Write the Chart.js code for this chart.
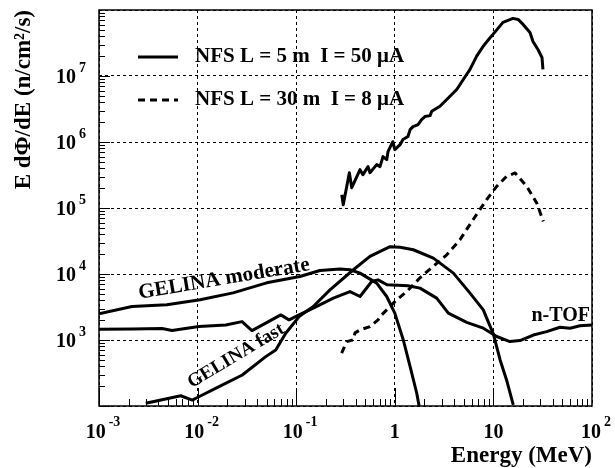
<!DOCTYPE html>
<html>
<head>
<meta charset="utf-8">
<script src="https://cdn.jsdelivr.net/npm/chart.js@4.4.0/dist/chart.umd.min.js"></script>
<style>
  body { margin: 0; background: #fff; }
  #wrap { width: 615px; height: 468px; }
</style>
</head>
<body>
<div id="wrap"><canvas id="fluxChart"></canvas></div>
<script>
// energies in MeV, E dPhi/dE in n/cm2/s
const nfs5Energy = [0.29, 0.30, 0.346, 0.366, 0.444, 0.475, 0.535, 0.56, 0.655, 0.708, 0.759, 0.828, 0.853, 0.955, 1.0,
  1.13, 1.21, 1.36, 1.43, 1.53, 1.72, 1.87, 2.02, 2.28, 2.37, 2.87, 3.23, 3.63, 4.25, 4.95, 5.79, 6.77, 7.9, 9.25,
  9.9, 12.5, 15.8, 17.8, 20, 23.5, 25.2, 28.3, 31.1, 31.8];
const nfs5Flux = [1.59e5, 1.12e5, 3.43e5, 2.03e5, 3.81e5, 3.2e5, 4.24e5, 3.43e5, 4.54e5, 4.24e5, 6.0e5, 5.4e5, 7.14e5,
  1.01e6, 7.67e5, 9.1e5, 1.09e6, 1.21e6, 1.54e6, 1.71e6, 1.84e6, 2.19e6, 2.43e6, 2.51e6, 2.92e6, 3.48e6, 4.15e6,
  4.94e6, 6.24e6, 8.85e6, 1.26e7, 2.0e7, 2.83e7, 3.8e7, 4.27e7, 6.5e7, 7.46e7, 7.2e7, 6.05e7, 4.57e7, 3.34e7,
  2.52e7, 1.91e7, 1.26e7];

const nfs30Energy = [0.289, 0.325, 0.377, 0.395, 0.444, 0.56, 0.676, 0.736, 0.828, 1.045, 1.32, 1.8, 2.44, 3.36,
  4.58, 6.21, 8.55, 10.8, 13.6, 16.6, 21.8, 27.5, 32.1];
const nfs30Flux = [631, 946, 1000, 1282, 1423, 1596, 2018, 2404, 2864, 4063, 5420, 8750, 1.3e4, 1.95e4, 3.3e4,
  6.64e4, 1.34e5, 2.13e5, 3.02e5, 3.4e5, 2.13e5, 1.19e5, 6.27e4];

const gelModEnergy = [0.001, 0.00216, 0.00487, 0.0106, 0.0229, 0.0502, 0.109, 0.174, 0.278, 0.351, 0.444, 0.655,
  0.828, 1.0, 1.22, 1.43, 1.67, 1.77];
const gelModFlux = [2490, 3210, 3410, 4060, 5180, 7350, 9170, 1.13e4, 1.19e4, 1.16e4, 1.03e4, 7280, 4560, 2550,
  1000, 394, 156, 97];

const gelFastEnergy = [0.00298, 0.00675, 0.00883, 0.0103, 0.0165, 0.0284, 0.0491, 0.062, 0.0783, 0.107, 0.149,
  0.22, 0.38, 0.56, 0.894, 1.13, 1.54, 2.46, 3.93, 5.79, 7.9, 8.55, 9.98, 11.7, 13.6, 15.9];
const gelFastFlux = [110, 143, 123, 138, 196, 295, 560, 708, 1268, 2265, 3214, 5750, 1.16e4, 1.85e4, 2.59e4,
  2.54e4, 2.33e4, 1.74e4, 1.03e4, 5130, 2864, 2143, 1239, 499, 248, 104];

const ntofEnergy = [0.001, 0.00216, 0.00436, 0.0055, 0.00695, 0.0103, 0.0193, 0.0282, 0.0356, 0.0491, 0.0697,
  0.0846, 0.107, 0.149, 0.238, 0.351, 0.444, 0.583, 0.676, 0.834, 1.36, 1.8, 2.66, 3.49, 5.36, 7.9, 10.8, 14.7,
  18.6, 25.4, 34.7, 47.3, 59.8, 75.5, 100];
const ntofFlux = [1460, 1470, 1490, 1390, 1470, 1600, 1690, 1900, 1390, 1800, 2400, 2020, 2400, 3040, 4310, 5420,
  4560, 7690, 8160, 6860, 6620, 6110, 4310, 2550, 1850, 1510, 1130, 946, 980, 1190, 1340, 1560, 1510, 1640, 1690];

const xDecades = [1e-3, 1e-2, 1e-1, 1, 10, 100];
const xTickLabels = [['10', '-3'], ['10', '-2'], ['10', '-1'], ['1', ''], ['10', ''], ['10', '2']];
const yDecades = [1e2, 1e3, 1e4, 1e5, 1e6, 1e7, 1e8];
const yTickLabels = [null, ['10', '3'], ['10', '4'], ['10', '5'], ['10', '6'], ['10', '7'], null];

const serif = '"Liberation Serif", "Times New Roman", serif';

function points(xs, ys) {
  return xs.map((x, i) => ({ x: x, y: ys[i] }));
}

function line(data, dashed) {
  return {
    data: data,
    borderColor: '#000',
    borderWidth: 3,
    borderDash: dashed ? [7, 5] : [],
    borderJoinStyle: 'round',
    pointRadius: 0,
    tension: 0,
    fill: false
  };
}

// ROOT look: frame, inward ticks, 10^n labels, titles, legend, curve names
const rootStyle = {
  id: 'rootStyle',
  afterDraw(chart) {
    const ctx = chart.ctx;
    const a = chart.chartArea;
    const sx = chart.scales.x;
    const sy = chart.scales.y;
    ctx.save();

    ctx.strokeStyle = '#000';
    ctx.lineWidth = 1.5;
    ctx.strokeRect(a.left, a.top, a.right - a.left, a.bottom - a.top);

    ctx.lineWidth = 1;
    ctx.beginPath();
    for (let d = -3; d < 2; d++) {
      for (let k = 1; k < 10; k++) {
        const px = Math.round(sx.getPixelForValue(k * Math.pow(10, d))) + 0.5;
        ctx.moveTo(px, a.bottom);
        ctx.lineTo(px, a.bottom - (k === 1 ? 18 : 7));
      }
    }
    for (let d = 2; d < 8; d++) {
      for (let k = 1; k < 10; k++) {
        const py = Math.round(sy.getPixelForValue(k * Math.pow(10, d))) + 0.5;
        ctx.moveTo(a.left, py);
        ctx.lineTo(a.left + (k === 1 ? 11 : 6), py);
      }
    }
    ctx.stroke();

    ctx.fillStyle = '#000';
    const baseFont = 'bold 20px ' + serif;
    const supFont = 'bold 14px ' + serif;

    // x tick labels
    ctx.textBaseline = 'alphabetic';
    ctx.textAlign = 'left';
    xDecades.forEach((v, i) => {
      const px = sx.getPixelForValue(v);
      const [b, e] = xTickLabels[i];
      ctx.font = baseFont;
      const wb = ctx.measureText(b).width;
      ctx.font = supFont;
      const we = e ? ctx.measureText(e).width + 3 : 0;
      const left = px + (e ? 4 : 0) - (wb + we) / 2;
      ctx.font = baseFont;
      ctx.fillText(b, left, 438);
      if (e) {
        ctx.font = supFont;
        ctx.fillText(e, left + wb + 3, 426);
      }
    });

    // y tick labels
    yDecades.forEach((v, i) => {
      const lab = yTickLabels[i];
      if (!lab) return;
      const py = sy.getPixelForValue(v);
      ctx.textAlign = 'right';
      ctx.font = supFont;
      const we = ctx.measureText(lab[1]).width;
      ctx.fillText(lab[1], 86, py - 4);
      ctx.font = baseFont;
      ctx.fillText(lab[0], 86 - we - 3, py + 7);
    });

    // axis titles
    ctx.font = 'bold 23px ' + serif;
    ctx.textAlign = 'right';
    ctx.fillText('Energy (MeV)', a.right, 462);
    ctx.save();
    ctx.translate(30, a.top);
    ctx.rotate(-Math.PI / 2);
    ctx.textAlign = 'right';
    ctx.fillText('E d\u03A6/dE (n/cm\u00B2/s)', 0, 0);
    ctx.restore();

    // legend
    ctx.lineWidth = 3;
    ctx.beginPath();
    ctx.moveTo(138, 57);
    ctx.lineTo(178, 57);
    ctx.stroke();
    ctx.setLineDash([7, 5]);
    ctx.beginPath();
    ctx.moveTo(138, 100);
    ctx.lineTo(178, 100);
    ctx.stroke();
    ctx.setLineDash([]);
    ctx.font = 'bold 21px ' + serif;
    ctx.textAlign = 'left';
    ctx.textBaseline = 'middle';
    ctx.fillText('NFS L = 5 m  I = 50 \u03BCA', 195, 57);
    ctx.fillText('NFS L = 30 m  I = 8 \u03BCA', 195, 100);

    // curve names
    ctx.textAlign = 'center';
    ctx.save();
    ctx.translate(224, 279);
    ctx.rotate(-9.5 * Math.PI / 180);
    ctx.fillText('GELINA moderate', 0, 0);
    ctx.restore();
    ctx.font = 'bold 19px ' + serif;
    ctx.save();
    ctx.translate(236, 356);
    ctx.rotate(-31 * Math.PI / 180);
    ctx.fillText('GELINA fast', 0, 0);
    ctx.restore();
    ctx.font = 'bold 20px ' + serif;
    ctx.textAlign = 'right';
    ctx.fillText('n-TOF', 590, 316);

    ctx.restore();
  }
};

const ctx = document.getElementById('fluxChart').getContext('2d');
const fluxChart = new Chart(ctx, {
  type: 'line',
  data: {
    datasets: [
      line(points(nfs5Energy, nfs5Flux), false),
      line(points(nfs30Energy, nfs30Flux), true),
      line(points(gelModEnergy, gelModFlux), false),
      line(points(gelFastEnergy, gelFastFlux), false),
      line(points(ntofEnergy, ntofFlux), false)
    ]
  },
  options: {
    responsive: true,
    maintainAspectRatio: false,
    animation: false,
    layout: {
      padding: { left: 99, right: 23, top: 10, bottom: 62 }
    },
    scales: {
      x: {
        type: 'logarithmic',
        min: 1e-3,
        max: 100,
        afterBuildTicks: (scale) => { scale.ticks = xDecades.map(v => ({ value: v })); },
        afterFit: (scale) => { scale.height = 0; },
        ticks: { display: false },
        grid: { color: '#000', lineWidth: 1, drawTicks: false },
        border: { display: false, dash: [3, 3] }
      },
      y: {
        type: 'logarithmic',
        min: 1e2,
        max: 1e8,
        afterBuildTicks: (scale) => { scale.ticks = yDecades.map(v => ({ value: v })); },
        afterFit: (scale) => { scale.width = 0; },
        ticks: { display: false },
        grid: { color: '#000', lineWidth: 1, drawTicks: false },
        border: { display: false, dash: [3, 3] }
      }
    },
    plugins: {
      legend: { display: false },
      tooltip: { enabled: false }
    }
  },
  plugins: [rootStyle]
});
</script>
</body>
</html>
